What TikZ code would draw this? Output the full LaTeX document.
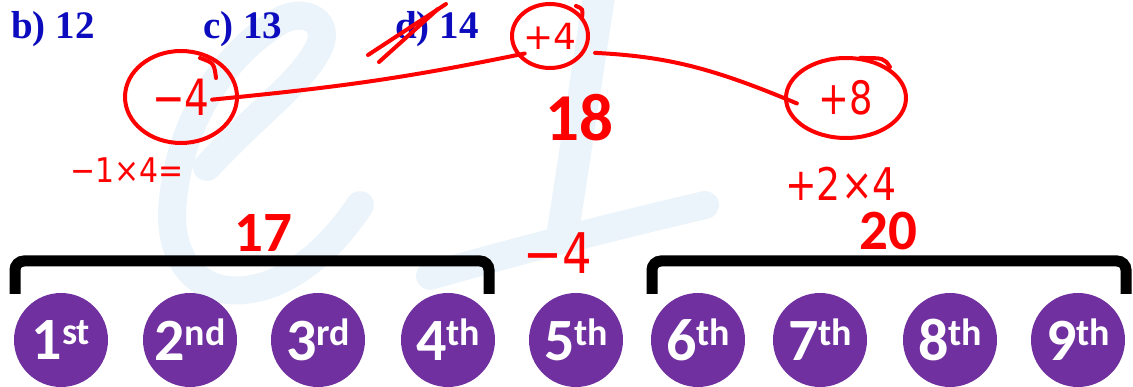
\documentclass[tikz,border=0pt]{standalone}
\usepackage{fontspec}
\usepackage{graphicx}
\setmainfont{Carlito}
\newfontfamily\optfont{Liberation Serif}
\newfontfamily\handfont{DejaVu Sans}
\usetikzlibrary{shapes.geometric}
\definecolor{ordpurple}{RGB}{112,48,160}
\definecolor{optblue}{RGB}{12,12,190}
\definecolor{wmblue}{RGB}{235,244,251}
\newcommand{\ordtext}[2]{{\bfseries\fontsize{60}{60}\selectfont #1\raisebox{15pt}{\fontsize{38}{38}\selectfont #2}}}
\newcommand{\scrib}[3]{{\handfont\fontsize{#1}{#1}\selectfont\scalebox{#2}[1]{#3}}}
\begin{document}
\begin{tikzpicture}[x=1pt, y=-1pt,
    ordc/.style={circle, fill=ordpurple, minimum size=94pt, inner sep=0pt, text=white},
    optlbl/.style={anchor=base west, inner sep=0pt, text=optblue, font=\optfont\bfseries\fontsize{39}{39}\selectfont},
    sumlbl/.style={text=red, inner sep=0pt, font=\bfseries\fontsize{57}{57}\selectfont},
    handtxt/.style={text=red, inner sep=0pt},
    handring/.style={ellipse, draw=red, line width=4pt, inner sep=0pt, text=red},
    handline/.style={draw=red, line width=4pt, line cap=round},
    bracket/.style={line width=11pt, rounded corners=9pt},
    wmark/.style={draw=wmblue, line width=28pt, line cap=round}]
  \clip (0,0) rectangle (1133,387);

  % faint logo in the background
  \draw[wmark] (207,167) .. controls (260,110) and (305,80) .. (320,45)
    .. controls (330,18) and (300,8) .. (278,22)
    .. controls (220,58) and (180,125) .. (173,200)
    .. controls (166,262) and (200,295) .. (245,290)
    .. controls (290,285) and (330,250) .. (360,205);
  \draw[wmark, line width=32pt] (600,-10) -- (562,238);
  \draw[wmark] (430,276) .. controls (520,250) and (620,225) .. (705,205);

  % answer options
  \node[optlbl] (bopt) at (11,39) {b) 12};
  \node[optlbl] (copt) at (203,39) {c) 13};
  \node[optlbl] (dopt) at (395,39) {d) 14};
  \draw[handline] ([shift={(-27,16)}]dopt.base west) -- ([shift={(51,-35)}]dopt.base west);
  \draw[handline] ([shift={(-16,23)}]dopt.base west) -- ([shift={(43,-30)}]dopt.base west);

  % ringed differences
  \node[handring, minimum width=112pt, minimum height=92pt] (m4) at (181,97) {\scrib{50}{0.78}{−4}};
  \node[handring, minimum width=76pt, minimum height=64pt] (p4) at (550,36) {\scrib{36}{1}{+4}};
  \node[handring, minimum width=120pt, minimum height=80pt] (p8) at (846,98) {\scrib{46}{0.8}{+8}};
  \draw[handline] ([shift={(19,-39)}]m4.center) .. controls ([shift={(33,-34)}]m4.center) .. ([shift={(35,-19)}]m4.center);
  \draw[handline] ([shift={(26,-30)}]p4.center) .. controls ([shift={(33,-27)}]p4.center) .. ([shift={(32,-19)}]p4.center);
  \draw[handline] ([shift={(14,-40)}]p8.center) .. controls ([shift={(38,-40)}]p8.center) .. ([shift={(44,-31)}]p8.center);

  \draw[handline, shorten <=-27pt, shorten >=-8pt] (m4.east) to[bend right=3] (p4.210);
  \draw[handline, shorten <=10pt, shorten >=-14pt] (p4.-25) to[bend left=10] (p8.west);

  \node[handtxt] (m1x4) at (127,170) {\scrib{34}{0.88}{−1×4=}};
  \node[handtxt] (p2x4) at (841,184) {\scrib{45}{0.84}{+2×4}};
  \node[handtxt] (m4b) at (558,253) {\scrib{56}{0.83}{−4}};

  % sums
  \node[sumlbl] (s17) at (263,233) {17};
  \node[sumlbl, font=\bfseries\fontsize{67}{67}\selectfont] (s18) at (579,118) {18};
  \node[sumlbl] (s20) at (888,231) {20};

  % brackets over the groups
  \draw[bracket] (15,294) |- (489,261) -- (489,294);
  \draw[bracket] (652,294) |- (1126,261) -- (1126,294);

  % the nine positions
  \node[ordc] (n1) at (61,340) {\ordtext{1}{st}};
  \node[ordc] (n2) at (190,340) {\ordtext{2}{nd}};
  \node[ordc] (n3) at (318,340) {\ordtext{3}{rd}};
  \node[ordc] (n4) at (448,340) {\ordtext{4}{th}};
  \node[ordc] (n5) at (576,340) {\ordtext{5}{th}};
  \node[ordc] (n6) at (698,340) {\ordtext{6}{th}};
  \node[ordc] (n7) at (820,340) {\ordtext{7}{th}};
  \node[ordc] (n8) at (950,340) {\ordtext{8}{th}};
  \node[ordc] (n9) at (1078,340) {\ordtext{9}{th}};
\end{tikzpicture}
\end{document}
